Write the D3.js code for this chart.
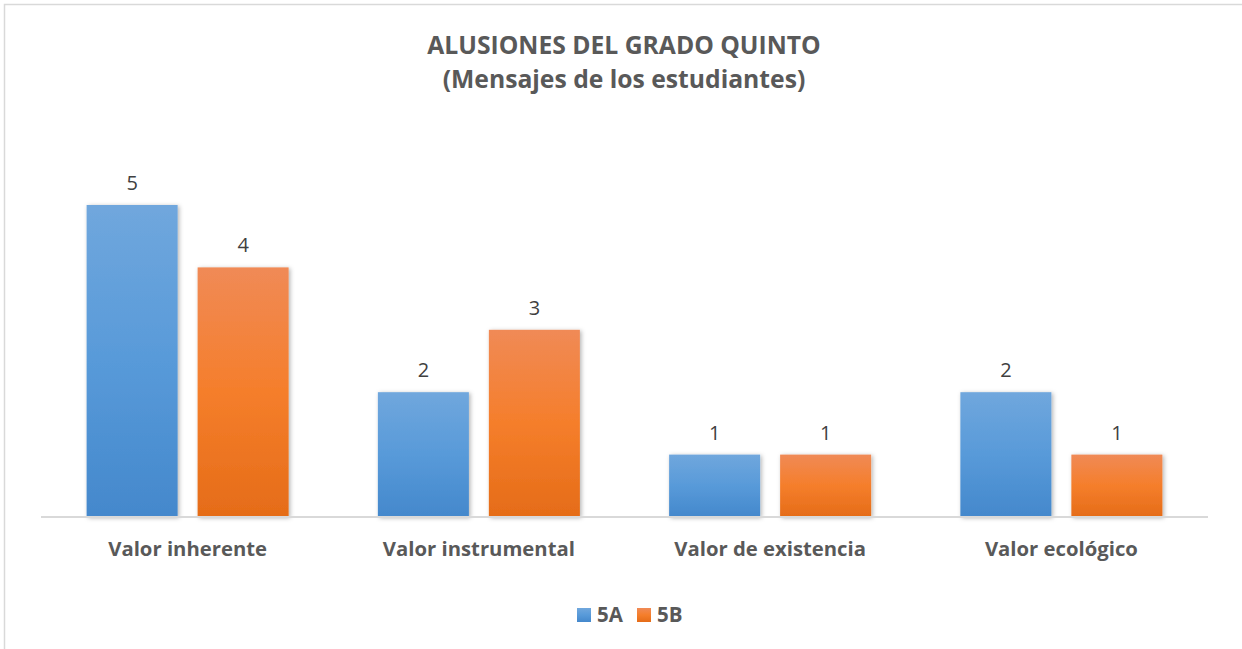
<!DOCTYPE html>
<html><head><meta charset="utf-8">
<script src="https://cdn.jsdelivr.net/npm/d3@7"></script>
<style>body{margin:0;background:#fff}svg{display:block}text{font-family:"Open Sans",sans-serif}</style>
</head><body><svg id="c" width="1242" height="649"></svg>
<script>
const categories = ["Valor inherente","Valor instrumental","Valor de existencia","Valor ecológico"];
const seriesNames = ["5A","5B"];
const values5A = [5,2,1,2];
const values5B = [4,3,1,1];
const titleLines = ["ALUSIONES DEL GRADO QUINTO","(Mensajes de los estudiantes)"];

const svg = d3.select("#c");
// frame
svg.append("path").attr("d","M4.5,649 L4.5,4.5 L1242,4.5").attr("fill","none").attr("stroke","#d9d9d9").attr("stroke-width",1.5);

const defs = svg.append("defs");
const gA = defs.append("linearGradient").attr("id","gA").attr("x1",0).attr("y1",0).attr("x2",0).attr("y2",1);
gA.append("stop").attr("offset","0%").attr("stop-color","#70a7dd");
gA.append("stop").attr("offset","50%").attr("stop-color","#589ad9");
gA.append("stop").attr("offset","100%").attr("stop-color","#4488cc");
const gB = defs.append("linearGradient").attr("id","gB").attr("x1",0).attr("y1",0).attr("x2",0).attr("y2",1);
gB.append("stop").attr("offset","0%").attr("stop-color","#f08a56");
gB.append("stop").attr("offset","50%").attr("stop-color","#f57e2b");
gB.append("stop").attr("offset","100%").attr("stop-color","#e56c18");
const f = defs.append("filter").attr("id","sh").attr("x","-20%").attr("y","-5%").attr("width","140%").attr("height","115%");
f.append("feDropShadow").attr("dx",1.5).attr("dy",1).attr("stdDeviation",2).attr("flood-color","#000").attr("flood-opacity",0.3);

const x0 = d3.scaleBand().domain(categories).range([42,1207]).paddingInner(0).paddingOuter(0);
const x1 = d3.scaleBand().domain(seriesNames).range([0,x0.bandwidth()]).paddingInner(0.18).paddingOuter(0.402);
const y = d3.scaleLinear().domain([0,5]).range([517,205]);

const data = categories.map((c,i)=>({cat:c, vals:[{s:"5A",v:values5A[i]},{s:"5B",v:values5B[i]}]}));
const fills = {"5A":"url(#gA)","5B":"url(#gB)"};

const g = svg.append("g");
const grp = g.selectAll("g.cat").data(data).join("g").attr("transform",d=>`translate(${x0(d.cat)},0)`);
grp.selectAll("rect").data(d=>d.vals).join("rect")
  .attr("x",d=>x1(d.s)).attr("width",x1.bandwidth())
  .attr("y",d=>y(d.v)).attr("height",d=>y(0)-y(d.v))
  .attr("fill",d=>fills[d.s]).attr("filter","url(#sh)");
grp.selectAll("text.lbl").data(d=>d.vals).join("text").attr("class","lbl")
  .attr("x",d=>x1(d.s)+x1.bandwidth()/2).attr("y",d=>y(d.v)-15)
  .attr("text-anchor","middle").attr("font-size",20).attr("fill","#404040").text(d=>d.v);

// axis
const ax = svg.append("g").attr("transform",`translate(0,${y(0)})`).call(d3.axisBottom(x0).tickSize(0).tickPadding(0));
ax.select(".domain").attr("stroke","#d9d9d9").attr("stroke-width",2).attr("d","M41,0H1208");
ax.selectAll("text").attr("font-family","Open Sans").attr("font-size",20.3).attr("font-weight","bold").attr("fill","#595959").attr("dy",0).attr("y",39);

// title
svg.append("text").attr("x",624).attr("y",54).attr("text-anchor","middle").attr("font-size",24.7).attr("font-weight","bold").attr("fill","#595959").text(titleLines[0]);
svg.append("text").attr("x",624).attr("y",88).attr("text-anchor","middle").attr("font-size",24.7).attr("font-weight","bold").attr("fill","#595959").text(titleLines[1]);

// legend
const lg = svg.append("g");
const lx = [577,637];
seriesNames.forEach((s,i)=>{
  lg.append("rect").attr("x",lx[i]).attr("y",608).attr("width",14).attr("height",14).attr("fill",fills[s]);
  lg.append("text").attr("x",lx[i]+20).attr("y",622).attr("font-size",20.5).attr("font-weight","bold").attr("fill","#595959").text(s);
});
</script></body></html>
